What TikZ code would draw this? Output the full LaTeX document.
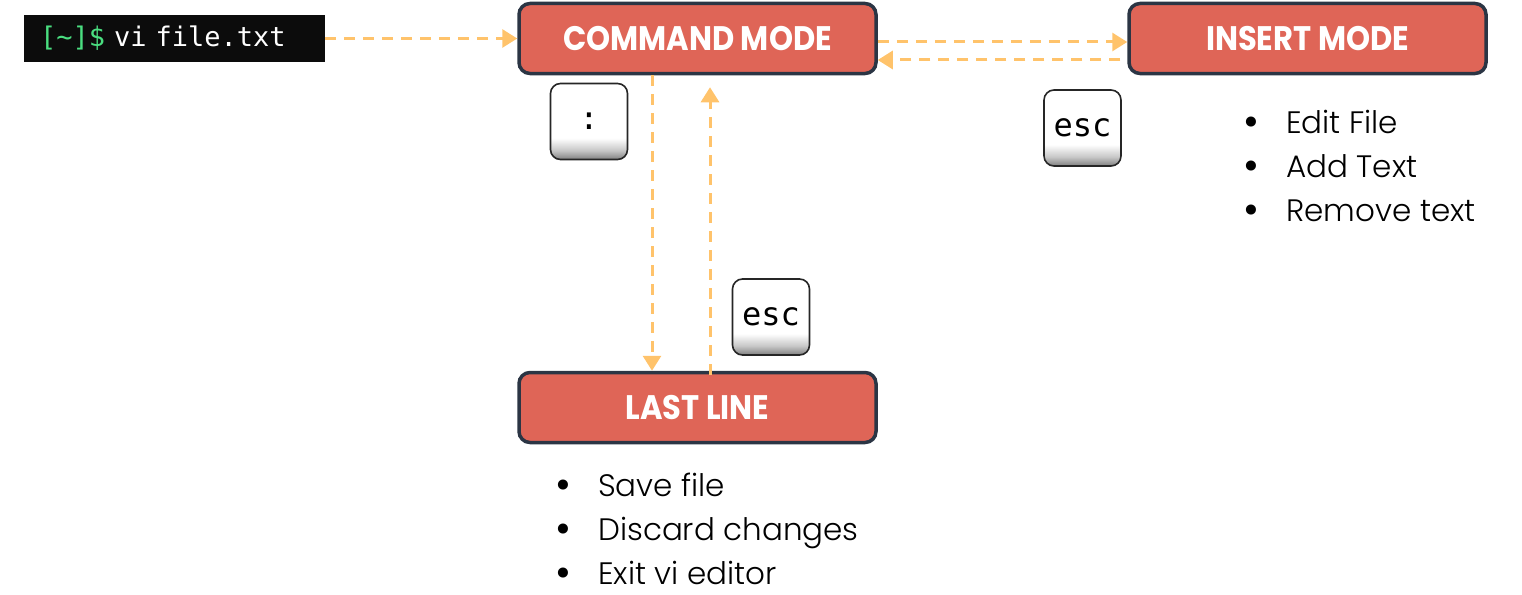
\documentclass[tikz,border=0pt]{standalone}
\usepackage{fontspec}
\usepackage{graphicx}
\setmainfont{Poppins}
\newfontfamily\headfont{Poppins}[FakeStretch=0.9]
\newfontfamily\notefont{Poppins Light}
\newfontfamily\keyfont{DejaVu Sans Mono}
\usetikzlibrary{arrows.meta}

\definecolor{modefill}{HTML}{DF6557}
\definecolor{modeline}{HTML}{2B3544}
\definecolor{flowcol}{HTML}{FFC36B}
\definecolor{termgreen}{HTML}{4ADE80}
\definecolor{termbg}{HTML}{0C0C0C}
\pgfdeclareverticalshading{keyshade}{100bp}{color(0bp)=(black!50); color(25bp)=(black!50); color(31bp)=(black!22); color(39bp)=(white); color(100bp)=(white)}
\newcommand{\notebullet}{\makebox[43pt][l]{\raisebox{-3pt}{\scalebox{1.4}{\textbullet}}}}

\begin{document}
\begin{tikzpicture}[x=1pt,y=-1pt,
  mode/.style={draw=modeline, line width=3.5pt, fill=modefill, rounded corners=11pt,
    minimum width=357pt, minimum height=70pt, text=white,
    font=\headfont\bfseries\fontsize{34}{34}\selectfont},
  keycap/.style={draw=black!85, line width=1.6pt, rounded corners=10pt, shade, shading=keyshade,
    minimum width=77pt, minimum height=76pt, font=\keyfont\fontsize{32}{32}\selectfont},
  notes/.style={align=left, inner sep=0pt, font=\notefont\fontsize{31}{44}\selectfont},
  flow/.style={draw=flowcol, line width=3pt, dash pattern=on 11pt off 8pt,
    -{Triangle[width=18pt,length=15pt]}}]
\useasboundingbox (0,0) rectangle (1522,594);

% terminal
\node[fill=termbg, text=white, text width=269pt, inner xsep=16pt, inner ysep=0pt,
  minimum height=47pt, align=left, font=\keyfont\fontsize{27}{27}\selectfont]
  (term) at (174.5,38.5) {\textcolor{termgreen}{[\textasciitilde]\$} vi file.txt};

% modes
\node[mode] (cmd) at (697.5,38.5) {COMMAND MODE};
\node[mode] (ins) at (1307.5,38.5) {INSERT MODE};
\node[mode] (last) at (697.5,407.5) {LAST LINE};

% keys
\node[keycap] (colon) at (589,121.5) {:};
\node[keycap] (escins) at (1082.5,128) {esc};
\node[keycap] (esclast) at (771,317) {esc};

% arrows
\begin{scope}[flow]
    \draw (term.east) -- (cmd.west);
    \draw ([yshift=-3.5pt]cmd.east) -- ([yshift=-3.5pt]ins.west);
    \draw ([xshift=-7pt,yshift=-21.5pt]ins.west) -- ([yshift=-21.5pt]cmd.east);
    \draw ([xshift=-45.5pt]cmd.south) -- ([xshift=-45.5pt]last.north);
    \draw ([xshift=12.5pt,yshift=-4pt]last.north) -- ([xshift=12.5pt,yshift=-12pt]cmd.south);
\end{scope}

% notes
\node[notes, anchor=north west] (insnotes) at (1243,110)
  {\notebullet Edit File\\\notebullet Add Text\\\notebullet Remove text};
\node[notes, anchor=north west] (lastnotes) at (555,473)
  {\notebullet Save file\\\notebullet Discard changes\\\notebullet Exit vi editor};
\end{tikzpicture}
\end{document}
